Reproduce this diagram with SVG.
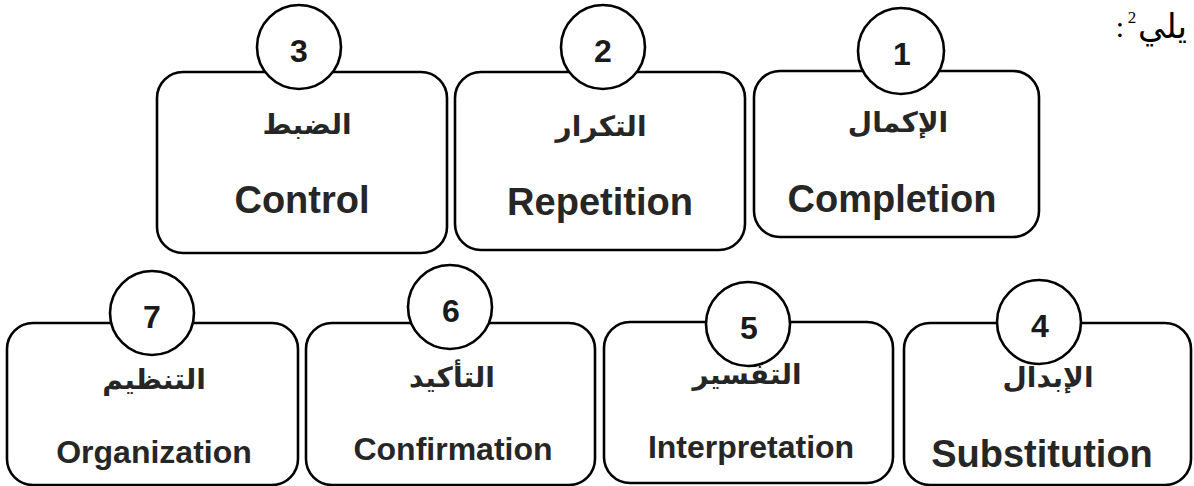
<svg xmlns="http://www.w3.org/2000/svg" width="1194" height="486" viewBox="0 0 1194 486">
  <style>
    .box { fill: #ffffff; stroke: #000000; stroke-width: 2.6; }
    .num-circle { fill: #ffffff; stroke: #000000; stroke-width: 2.6; }
    .num { font-family: "Liberation Sans", Arial, sans-serif; font-weight: bold; font-size: 32px; fill: #1a1a1a; text-anchor: middle; }
    .ar { font-family: "DejaVu Sans", "Noto Sans", sans-serif; font-weight: bold; font-size: 28px; fill: #262626; text-anchor: middle; }
    .en { font-family: "Liberation Sans", Arial, sans-serif; font-weight: bold; font-size: 38px; fill: #262626; text-anchor: middle; }
    .en-sm { font-size: 32px; }
    .intro { font-family: "Liberation Serif", "DejaVu Sans", serif; fill: #000000; }
  </style>

  <rect width="1194" height="486" fill="#ffffff"/>

  <!-- heading fragment, top right -->
  <g id="heading">
    <text class="intro" x="1187" y="38" font-size="34" text-anchor="end">يلي</text>
    <text class="intro" x="1132" y="23" font-size="17" text-anchor="middle">2</text>
    <text class="intro" x="1120" y="37" font-size="30" text-anchor="middle">:</text>
  </g>

  <!-- no connectors between the categories -->
  <g id="connectors"/>

  <!-- top row -->
  <g id="node-1">
    <rect class="box" x="754" y="71" width="285" height="166" rx="26"/>
    <circle class="num-circle" cx="901" cy="51" r="43"/>
    <text class="num" x="902" y="65">1</text>
    <text class="ar" x="898" y="132">الإكمال</text>
    <text class="en" x="892" y="212">Completion</text>
  </g>

  <g id="node-2">
    <rect class="box" x="455" y="72" width="290" height="178" rx="26"/>
    <circle class="num-circle" cx="603" cy="47" r="42"/>
    <text class="num" x="603" y="62">2</text>
    <text class="ar" x="601" y="136">التكرار</text>
    <text class="en" x="600" y="215">Repetition</text>
  </g>

  <g id="node-3">
    <rect class="box" x="157" y="72" width="290" height="181" rx="26"/>
    <circle class="num-circle" cx="299" cy="47" r="42"/>
    <text class="num" x="299" y="62">3</text>
    <text class="ar" x="307" y="134">الضبط</text>
    <text class="en" x="302" y="213">Control</text>
  </g>

  <!-- bottom row -->
  <g id="node-4">
    <rect class="box" x="904" y="323" width="287" height="162" rx="26"/>
    <circle class="num-circle" cx="1039" cy="322" r="42"/>
    <text class="num" x="1040" y="337">4</text>
    <text class="ar" x="1048" y="387">الإبدال</text>
    <text class="en" x="1042" y="467">Substitution</text>
  </g>

  <g id="node-5">
    <rect class="box" x="604" y="322" width="289" height="161" rx="26"/>
    <circle class="num-circle" cx="748" cy="324" r="42"/>
    <text class="num" x="749" y="339">5</text>
    <text class="ar" x="747" y="384">التفسير</text>
    <text class="en en-sm" x="751" y="458">Interpretation</text>
  </g>

  <g id="node-6">
    <rect class="box" x="306" y="323" width="289" height="162" rx="26"/>
    <circle class="num-circle" cx="450" cy="307" r="42"/>
    <text class="num" x="451" y="322">6</text>
    <text class="ar" x="452" y="387">التأكيد</text>
    <text class="en en-sm" x="453" y="460">Confirmation</text>
  </g>

  <g id="node-7">
    <rect class="box" x="7" y="323" width="291" height="162" rx="26"/>
    <circle class="num-circle" cx="152" cy="313" r="42"/>
    <text class="num" x="152" y="328">7</text>
    <text class="ar" x="154" y="389">التنظيم</text>
    <text class="en en-sm" x="154" y="463">Organization</text>
  </g>
</svg>
